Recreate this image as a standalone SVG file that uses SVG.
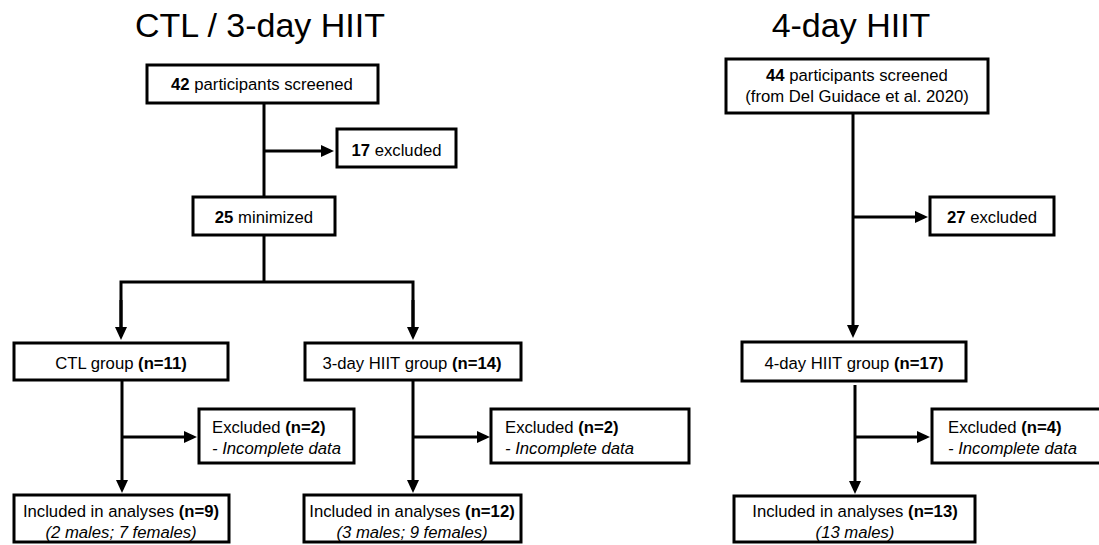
<svg xmlns="http://www.w3.org/2000/svg" width="1099" height="545" viewBox="0 0 1099 545">
<style>
text{font-family:"Liberation Sans",Arial,sans-serif;font-size:16.7px;fill:#000}
.t{font-size:34px}
.c{text-anchor:middle}
.b{font-weight:bold}
.i{font-style:italic}
rect{fill:#fff;stroke:#000;stroke-width:3}
.conn path{fill:none;stroke:#000;stroke-width:3;stroke-linejoin:miter}
</style>
<defs>
<marker id="ah" markerUnits="userSpaceOnUse" markerWidth="13" markerHeight="12" refX="9" refY="6" orient="auto">
<path d="M0,0 L13,6 L0,12 z" fill="#000"/>
</marker>
</defs>
<rect x="0" y="0" width="1099" height="545" style="stroke:none;fill:#fff"/>
<text class="t c" x="260" y="37">CTL / 3-day HIIT</text>
<text class="t c" x="851" y="37">4-day HIIT</text>
<g class="conn">
<path d="M264 104 V196"/>
<path d="M264 151 H330" marker-end="url(#ah)"/>
<path d="M264 236 V282"/>
<path d="M121 336 V282 H413 V336" />
<path d="M121 300 V336" marker-end="url(#ah)"/>
<path d="M413 300 V336" marker-end="url(#ah)"/>
<path d="M122 381 V489" marker-end="url(#ah)"/>
<path d="M122 437 H193" marker-end="url(#ah)"/>
<path d="M413 381 V489" marker-end="url(#ah)"/>
<path d="M413 437 H486" marker-end="url(#ah)"/>
<path d="M853 114 V334" marker-end="url(#ah)"/>
<path d="M853 217 H924" marker-end="url(#ah)"/>
<path d="M855 385 V490" marker-end="url(#ah)"/>
<path d="M855 437 H926" marker-end="url(#ah)"/>
</g>
<g id="screened42">
<rect x="147" y="65" width="231" height="38"/>
<text class="c" x="262" y="90"><tspan class="b">42</tspan> participants screened</text>
</g>
<g id="excluded17">
<rect x="337" y="129" width="119" height="38"/>
<text class="c" x="396.5" y="156"><tspan class="b">17</tspan> excluded</text>
</g>
<g id="minimized25">
<rect x="193" y="197" width="142" height="38"/>
<text class="c" x="264" y="223"><tspan class="b">25</tspan> minimized</text>
</g>
<g id="ctlGroup">
<rect x="14" y="343" width="214" height="37"/>
<text class="c" x="121" y="369">CTL group <tspan class="b">(n=11)</tspan></text>
</g>
<g id="hiit3Group">
<rect x="305" y="343" width="216" height="37"/>
<text class="c" x="412" y="369">3-day HIIT group <tspan class="b">(n=14)</tspan></text>
</g>
<g id="ctlExcluded">
<rect x="199" y="409" width="155" height="54"/>
<text x="212" y="433">Excluded <tspan class="b">(n=2)</tspan></text>
<text class="i" x="212" y="454">- Incomplete data</text>
</g>
<g id="hiit3Excluded">
<rect x="491" y="409" width="198" height="54"/>
<text x="505" y="433">Excluded <tspan class="b">(n=2)</tspan></text>
<text class="i" x="505" y="454">- Incomplete data</text>
</g>
<g id="ctlIncluded">
<rect x="14" y="495" width="215" height="47"/>
<text class="c" x="121" y="517">Included in analyses <tspan class="b">(n=9)</tspan></text>
<text class="c i" x="121" y="538">(2 males; 7 females)</text>
</g>
<g id="hiit3Included">
<rect x="304" y="495" width="217" height="47"/>
<text class="c" x="412" y="517">Included in analyses <tspan class="b">(n=12)</tspan></text>
<text class="c i" x="412" y="538">(3 males; 9 females)</text>
</g>
<g id="screened44">
<rect x="726" y="59" width="262" height="54"/>
<text class="c" x="857" y="81"><tspan class="b">44</tspan> participants screened</text>
<text class="c" x="857" y="102">(from Del Guidace et al. 2020)</text>
</g>
<g id="excluded27">
<rect x="930" y="197" width="124" height="38"/>
<text class="c" x="992" y="223"><tspan class="b">27</tspan> excluded</text>
</g>
<g id="hiit4Group">
<rect x="742" y="342" width="224" height="39"/>
<text class="c" x="854" y="369">4-day HIIT group <tspan class="b">(n=17)</tspan></text>
</g>
<g id="hiit4Excluded">
<rect x="932" y="409" width="198" height="54"/>
<text x="948" y="433">Excluded <tspan class="b">(n=4)</tspan></text>
<text class="i" x="948" y="454">- Incomplete data</text>
</g>
<g id="hiit4Included">
<rect x="734" y="496" width="241" height="46"/>
<text class="c" x="855" y="517">Included in analyses <tspan class="b">(n=13)</tspan></text>
<text class="c i" x="855" y="538">(13 males)</text>
</g>
</svg>
